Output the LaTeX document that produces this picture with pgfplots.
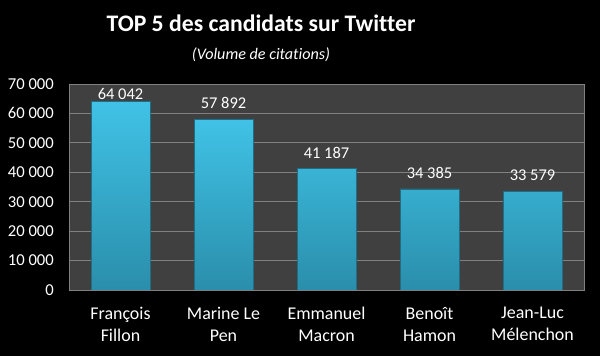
\documentclass[border=0pt]{standalone}
\usepackage{pgfplots}
\pgfplotsset{compat=1.18}
\usepackage{fontspec}
\setmainfont{Carlito}[Ligatures={NoCommon}]
\definecolor{plotbg}{HTML}{404040}
\definecolor{gridc}{HTML}{808080}
\definecolor{bartop}{HTML}{40C2E6}
\definecolor{barbot}{HTML}{2A8EAB}
\definecolor{baredge}{HTML}{1E6F86}
\begin{document}
\begin{tikzpicture}
\fill[black] (0,0) rectangle (600bp,356bp);
\node[white, font=\bfseries\fontsize{23.8}{28}\selectfont, anchor=base] at (261bp,324bp) {TOP 5 des candidats sur Twitter};
\node[white, font=\itshape\fontsize{16.2}{19}\selectfont, anchor=base] at (261bp,296bp) {(Volume de citations)};
\begin{axis}[
  at={(69bp,66bp)}, anchor=south west,
  scale only axis, width=515bp, height=206bp,
  xmin=-0.5, xmax=4.5, ymin=0, ymax=70000,
  ytick={0,10000,...,70000},
  xtick={0,1,2,3,4},
  xticklabels={{François\\Fillon},{Marine Le\\Pen},{Emmanuel\\Macron},{Benoît\\Hamon},{Jean-Luc\\Mélenchon}},
  scaled y ticks=false,
  /pgf/number format/assume math mode=true,
  /pgf/number format/1000 sep={\ },
  major tick length=0pt,
  ymajorgrids, grid style={gridc, line width=0.9pt},
  axis line style={gridc, line width=0.9pt},
  axis background/.style={fill=plotbg},
  yticklabel style={white, font=\fontsize{16.7}{20}\selectfont, inner sep=0pt, xshift=-15bp},
  xticklabel style={white, font=\fontsize{18}{22}\selectfont, inner sep=0pt, yshift=-17bp, align=center},
  ybar, bar width=59bp, bar shift=0pt,
  nodes near coords,
  every node near coord/.append style={white, font=\fontsize{16.5}{19}\selectfont, /pgf/number format/assume math mode=true, /pgf/number format/1000 sep={\ }},
]
\addplot[draw=baredge, line width=0.6pt, top color=bartop, bottom color=barbot,
  every node near coord/.append style={yshift=-2bp}]
  coordinates {(0,64042)};
\addplot[draw=baredge, line width=0.6pt, top color=bartop, bottom color=barbot,
  every node near coord/.append style={yshift=7bp}]
  coordinates {(1,57892) (2,41187) (3,34385) (4,33579)};
\end{axis}
\end{tikzpicture}
\end{document}
